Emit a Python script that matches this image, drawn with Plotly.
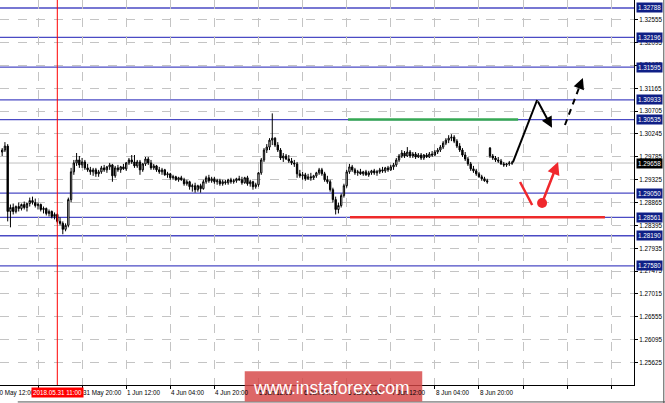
import plotly.graph_objects as go

# H1 candles, EURUSD-like quotes
opens = [1.2988, 1.2992, 1.3000, 1.2868, 1.2876, 1.2868, 1.2878, 1.2874, 1.2882, 1.2876,
         1.2884, 1.2890, 1.2886, 1.2880, 1.2882, 1.2872, 1.2874, 1.2864, 1.2868, 1.2858,
         1.2862, 1.2848, 1.2844, 1.2832, 1.2840, 1.2892, 1.2948, 1.2966, 1.2972, 1.2962,
         1.2968, 1.2956, 1.2952, 1.2948, 1.2952, 1.2944, 1.2948, 1.2956, 1.2952, 1.2958,
         1.2962, 1.2940, 1.2956, 1.2952, 1.2958, 1.2954, 1.2966, 1.2972, 1.2968, 1.2960,
         1.2968, 1.2952, 1.2964, 1.2974, 1.2966, 1.2956, 1.2960, 1.2952, 1.2948, 1.2952,
         1.2942, 1.2944, 1.2936, 1.2938, 1.2932, 1.2936, 1.2932, 1.2924, 1.2928, 1.2918,
         1.2920, 1.2912, 1.2920, 1.2914, 1.2928, 1.2936, 1.2930, 1.2934, 1.2928, 1.2930,
         1.2924, 1.2928, 1.2926, 1.2932, 1.2928, 1.2930, 1.2934, 1.2932, 1.2926, 1.2936,
         1.2924, 1.2928, 1.2918, 1.2922, 1.2946, 1.2972, 1.2992, 1.2998, 1.3012, 1.3016,
         1.3002, 1.2992, 1.2976, 1.2980, 1.2974, 1.2970, 1.2966, 1.2964, 1.2944, 1.2940,
         1.2942, 1.2934, 1.2938, 1.2936, 1.2940, 1.2946, 1.2952, 1.2944, 1.2932, 1.2928,
         1.2912, 1.2892, 1.2872, 1.2880, 1.2900, 1.2920, 1.2948, 1.2958, 1.2952, 1.2946,
         1.2948, 1.2944, 1.2948, 1.2942, 1.2946, 1.2950, 1.2946, 1.2948, 1.2952, 1.2950,
         1.2956, 1.2952, 1.2958, 1.2962, 1.2972, 1.2980, 1.2986, 1.2980, 1.2988, 1.2980,
         1.2984, 1.2978, 1.2982, 1.2976, 1.2982, 1.2978, 1.2984, 1.2982, 1.2988, 1.2992,
         1.2998, 1.3006, 1.3012, 1.3016, 1.3018, 1.3010, 1.3000, 1.2992, 1.2982, 1.2974,
         1.2964, 1.2954, 1.2950, 1.2944, 1.2938, 1.2934, 1.2930, 1.2996, 1.2980, 1.2976,
         1.2972, 1.2970, 1.2964, 1.2962, 1.2964, 1.2966]
highs = [1.2996, 1.3008, 1.3004, 1.2882, 1.2884, 1.2880, 1.2886, 1.2884, 1.2888, 1.2886,
         1.2896, 1.2898, 1.2894, 1.2886, 1.2884, 1.2878, 1.2876, 1.2872, 1.2870, 1.2866,
         1.2864, 1.2856, 1.2848, 1.2844, 1.2896, 1.2956, 1.2972, 1.2986, 1.2980, 1.2976,
         1.2972, 1.2964, 1.2958, 1.2956, 1.2956, 1.2952, 1.2960, 1.2962, 1.2960, 1.2966,
         1.2964, 1.2960, 1.2962, 1.2960, 1.2964, 1.2968, 1.2976, 1.2982, 1.2982, 1.2972,
         1.2972, 1.2966, 1.2978, 1.2978, 1.2972, 1.2964, 1.2962, 1.2958, 1.2956, 1.2954,
         1.2948, 1.2946, 1.2942, 1.2940, 1.2938, 1.2940, 1.2936, 1.2932, 1.2930, 1.2924,
         1.2926, 1.2922, 1.2924, 1.2932, 1.2940, 1.2942, 1.2938, 1.2938, 1.2934, 1.2934,
         1.2932, 1.2932, 1.2934, 1.2936, 1.2934, 1.2936, 1.2940, 1.2938, 1.2938, 1.2940,
         1.2932, 1.2930, 1.2926, 1.2948, 1.2976, 1.2996, 1.3004, 1.3016, 1.3066, 1.3018,
         1.3008, 1.2996, 1.2986, 1.2984, 1.2982, 1.2976, 1.2972, 1.2968, 1.2952, 1.2948,
         1.2946, 1.2944, 1.2946, 1.2942, 1.2948, 1.2956, 1.2956, 1.2948, 1.2940, 1.2932,
         1.2916, 1.2898, 1.2886, 1.2904, 1.2924, 1.2952, 1.2964, 1.2962, 1.2956, 1.2952,
         1.2954, 1.2950, 1.2952, 1.2950, 1.2952, 1.2954, 1.2952, 1.2956, 1.2958, 1.2958,
         1.2960, 1.2962, 1.2966, 1.2976, 1.2984, 1.2992, 1.2990, 1.2998, 1.2992, 1.2988,
         1.2988, 1.2986, 1.2986, 1.2984, 1.2986, 1.2988, 1.2990, 1.2992, 1.2996, 1.3002,
         1.3010, 1.3016, 1.3022, 1.3024, 1.3022, 1.3014, 1.3006, 1.2996, 1.2988, 1.2978,
         1.2968, 1.2960, 1.2954, 1.2948, 1.2942, 1.2938, 1.2934, 1.2998, 1.2984, 1.2980,
         1.2978, 1.2974, 1.2968, 1.2966, 1.2970, 1.2970]
lows = [1.2980, 1.2988, 1.2848, 1.2836, 1.2862, 1.2864, 1.2868, 1.2870, 1.2872, 1.2868,
        1.2878, 1.2882, 1.2876, 1.2872, 1.2868, 1.2864, 1.2860, 1.2858, 1.2854, 1.2852,
        1.2844, 1.2840, 1.2822, 1.2828, 1.2836, 1.2886, 1.2942, 1.2960, 1.2956, 1.2956,
        1.2952, 1.2948, 1.2942, 1.2940, 1.2938, 1.2938, 1.2944, 1.2948, 1.2946, 1.2952,
        1.2928, 1.2936, 1.2948, 1.2946, 1.2952, 1.2950, 1.2962, 1.2964, 1.2956, 1.2956,
        1.2942, 1.2948, 1.2960, 1.2962, 1.2952, 1.2952, 1.2948, 1.2944, 1.2942, 1.2940,
        1.2936, 1.2932, 1.2932, 1.2930, 1.2928, 1.2930, 1.2920, 1.2920, 1.2912, 1.2908,
        1.2906, 1.2908, 1.2906, 1.2912, 1.2924, 1.2926, 1.2926, 1.2924, 1.2922, 1.2920,
        1.2920, 1.2922, 1.2922, 1.2924, 1.2924, 1.2926, 1.2930, 1.2922, 1.2924, 1.2920,
        1.2918, 1.2912, 1.2914, 1.2918, 1.2942, 1.2968, 1.2986, 1.2992, 1.3002, 1.2998,
        1.2988, 1.2972, 1.2968, 1.2972, 1.2966, 1.2962, 1.2958, 1.2936, 1.2936, 1.2932,
        1.2930, 1.2932, 1.2930, 1.2932, 1.2936, 1.2942, 1.2940, 1.2928, 1.2924, 1.2908,
        1.2886, 1.2862, 1.2864, 1.2876, 1.2896, 1.2916, 1.2944, 1.2948, 1.2942, 1.2940,
        1.2942, 1.2940, 1.2940, 1.2938, 1.2942, 1.2942, 1.2940, 1.2944, 1.2946, 1.2946,
        1.2948, 1.2950, 1.2952, 1.2958, 1.2968, 1.2976, 1.2976, 1.2978, 1.2976, 1.2976,
        1.2974, 1.2976, 1.2972, 1.2972, 1.2976, 1.2976, 1.2978, 1.2980, 1.2984, 1.2988,
        1.2994, 1.3002, 1.3006, 1.3010, 1.3006, 1.2996, 1.2988, 1.2978, 1.2970, 1.2960,
        1.2950, 1.2946, 1.2940, 1.2936, 1.2930, 1.2928, 1.2924, 1.2976, 1.2972, 1.2968,
        1.2966, 1.2962, 1.2958, 1.2958, 1.2960, 1.2962]
closes = [1.2992, 1.3000, 1.2868, 1.2876, 1.2868, 1.2878, 1.2874, 1.2882, 1.2876, 1.2884,
          1.2890, 1.2886, 1.2880, 1.2882, 1.2872, 1.2874, 1.2864, 1.2868, 1.2858, 1.2862,
          1.2848, 1.2844, 1.2832, 1.2840, 1.2892, 1.2948, 1.2966, 1.2972, 1.2962, 1.2968,
          1.2956, 1.2952, 1.2948, 1.2952, 1.2944, 1.2948, 1.2956, 1.2952, 1.2958, 1.2962,
          1.2940, 1.2956, 1.2952, 1.2958, 1.2954, 1.2966, 1.2972, 1.2968, 1.2960, 1.2968,
          1.2952, 1.2964, 1.2974, 1.2966, 1.2956, 1.2960, 1.2952, 1.2948, 1.2952, 1.2942,
          1.2944, 1.2936, 1.2938, 1.2932, 1.2936, 1.2932, 1.2924, 1.2928, 1.2918, 1.2920,
          1.2912, 1.2920, 1.2914, 1.2928, 1.2936, 1.2930, 1.2934, 1.2928, 1.2930, 1.2924,
          1.2928, 1.2926, 1.2932, 1.2928, 1.2930, 1.2934, 1.2932, 1.2926, 1.2936, 1.2924,
          1.2928, 1.2918, 1.2922, 1.2946, 1.2972, 1.2992, 1.2998, 1.3012, 1.3016, 1.3002,
          1.2992, 1.2976, 1.2980, 1.2974, 1.2970, 1.2966, 1.2964, 1.2944, 1.2940, 1.2942,
          1.2934, 1.2938, 1.2936, 1.2940, 1.2946, 1.2952, 1.2944, 1.2932, 1.2928, 1.2912,
          1.2892, 1.2872, 1.2880, 1.2900, 1.2920, 1.2948, 1.2958, 1.2952, 1.2946, 1.2948,
          1.2944, 1.2948, 1.2942, 1.2946, 1.2950, 1.2946, 1.2948, 1.2952, 1.2950, 1.2956,
          1.2952, 1.2958, 1.2962, 1.2972, 1.2980, 1.2986, 1.2980, 1.2988, 1.2980, 1.2984,
          1.2978, 1.2982, 1.2976, 1.2982, 1.2978, 1.2984, 1.2982, 1.2988, 1.2992, 1.2998,
          1.3006, 1.3012, 1.3016, 1.3018, 1.3010, 1.3000, 1.2992, 1.2982, 1.2974, 1.2964,
          1.2954, 1.2950, 1.2944, 1.2938, 1.2934, 1.2930, 1.2928, 1.2980, 1.2976, 1.2972,
          1.2970, 1.2964, 1.2962, 1.2964, 1.2966, 1.29658]
bars = list(range(len(closes)))

# price axis labels as printed by the terminal
price_ticks = [1.32555, 1.32095, 1.31635, 1.31165, 1.30705, 1.30245, 1.29785, 1.29325, 1.28865,
               1.28395, 1.27935, 1.27475, 1.27015, 1.26555, 1.26095, 1.25625, 1.25165]
# time axis: one label every 16 bars (first one sits under the cursor box)
time_tick_bars = [13 + 16 * k for k in range(14)]
time_tick_text = ["", "31 May 20:00", "1 Jun 12:00", "4 Jun 04:00", "4 Jun 20:00",
                  "5 Jun 12:00", "6 Jun 04:00", "6 Jun 20:00", "7 Jun 12:00", "8 Jun 04:00",
                  "8 Jun 20:00", "", "", ""]

# horizontal levels drawn by the analyst
levels = [1.32788, 1.32196, 1.31595, 1.30933, 1.30535, 1.29050, 1.28561, 1.28190, 1.27580]
bid = 1.29658
cursor_bar = 20
cursor_text = "2018.05.31 11:00"

green_level = [125.5, 187.2, 1.30535]
red_level = [126.2, 218.7, 1.28561]

# forecast sketch
up_path_x = [185.3, 194.1]
up_path_y = [1.2967, 1.3093]
up_head = [199.5, 1.3037]
dash_x = [204.2, 209.6]
dash_y = [1.30426, 1.3122]
dash_head = [210.7, 1.31375]
red_stroke_x = [187.9, 192.3]
red_stroke_y = [1.29275, 1.28811]
red_dot = [195.9, 1.28851]
red_head = [201.7, 1.29679]

FONT = "Liberation Sans, Arial"
LEVEL_COLOR = "#4a4ac4"
BOX_COLOR = "#0f1f86"

fig = go.Figure()
fig.add_trace(go.Candlestick(
    x=bars, open=opens, high=highs, low=lows, close=closes,
    increasing=dict(line=dict(color="black", width=1), fillcolor="white"),
    decreasing=dict(line=dict(color="black", width=1), fillcolor="black"),
    whiskerwidth=0, hoverinfo="skip", showlegend=False))

fig.add_trace(go.Scatter(x=up_path_x, y=up_path_y, mode="lines",
                         line=dict(color="black", width=2), hoverinfo="skip", showlegend=False))
fig.add_trace(go.Scatter(x=dash_x, y=dash_y, mode="lines",
                         line=dict(color="black", width=2, dash="6px,5px"), hoverinfo="skip", showlegend=False))
fig.add_trace(go.Scatter(x=red_stroke_x, y=red_stroke_y, mode="lines",
                         line=dict(color="#f0282d", width=2.5), hoverinfo="skip", showlegend=False))
fig.add_trace(go.Scatter(x=[red_dot[0]], y=[red_dot[1]], mode="markers",
                         marker=dict(color="#f0282d", size=10), hoverinfo="skip", showlegend=False))

shapes = []
for lv in levels:
    shapes.append(dict(type="line", xref="paper", yref="y", x0=0, x1=1, y0=lv, y1=lv,
                       line=dict(color=LEVEL_COLOR, width=1.3), layer="below"))
shapes.append(dict(type="line", xref="paper", yref="y", x0=0, x1=1, y0=bid, y1=bid,
                   line=dict(color="#c0c0c0", width=1), layer="below"))
shapes.append(dict(type="line", xref="x", yref="y", x0=green_level[0], x1=green_level[1],
                   y0=green_level[2], y1=green_level[2], line=dict(color="#35a853", width=2.5)))
shapes.append(dict(type="line", xref="x", yref="y", x0=red_level[0], x1=red_level[1],
                   y0=red_level[2], y1=red_level[2], line=dict(color="#ee2a2a", width=2.5)))
shapes.append(dict(type="line", xref="x", yref="paper", x0=cursor_bar, x1=cursor_bar, y0=0, y1=1,
                   line=dict(color="#ff0000", width=1)))
# window frame
shapes.append(dict(type="line", xref="paper", yref="paper", x0=0.028, x1=1.05, y0=-0.044, y1=-0.044,
                   line=dict(color="#505050", width=1)))
shapes.append(dict(type="line", xref="paper", yref="paper", x0=1.047, x1=1.047, y0=-0.05, y1=1,
                   line=dict(color="#505050", width=1)))
# watermark
shapes.append(dict(type="rect", xref="paper", yref="paper", x0=0.386, x1=0.666, y0=-0.043, y1=0.036,
                   fillcolor="rgba(214,70,70,0.82)", line=dict(width=0)))

ann = []
for lv in levels:
    ann.append(dict(xref="paper", yref="y", x=1.003, y=lv, xanchor="left", yanchor="middle",
                    text="%.5f" % lv, showarrow=False, bgcolor=BOX_COLOR, borderpad=1,
                    font=dict(family=FONT, size=6.3, color="white")))
ann.append(dict(xref="paper", yref="y", x=1.003, y=bid, xanchor="left", yanchor="middle",
                text="%.5f" % bid, showarrow=False, bgcolor="black", borderpad=1,
                font=dict(family=FONT, size=6.3, color="white")))

ann.append(dict(xref="paper", yref="paper", x=-0.0095, y=0, xanchor="left", yanchor="top",
                text="30 May 12:00", showarrow=False, yshift=-2,
                font=dict(family=FONT, size=6.3, color="black")))
for b, t in zip(time_tick_bars, time_tick_text):
    if t:
        ann.append(dict(xref="x", yref="paper", x=b, y=0, xanchor="left", yanchor="top",
                        text=t, showarrow=False, yshift=-2, xshift=-1,
                        font=dict(family=FONT, size=6.3, color="black")))
ann.append(dict(xref="x", yref="paper", x=cursor_bar, y=0, xanchor="center", yanchor="top",
                text=cursor_text, showarrow=False, bgcolor="#ff0000", borderpad=1, yshift=-2,
                font=dict(family=FONT, size=6.3, color="white")))
ann.append(dict(xref="paper", yref="paper", x=0.523, y=-0.007, xanchor="center", yanchor="middle",
                text="www.instaforex.com", showarrow=False,
                font=dict(family=FONT, size=17.5, color="white")))

# arrow heads
ann.append(dict(xref="x", yref="y", axref="x", ayref="y", x=up_head[0], y=up_head[1],
                ax=up_path_x[1], ay=up_path_y[1], showarrow=True, arrowhead=2, arrowsize=1.1,
                arrowwidth=2, arrowcolor="black", text=""))
ann.append(dict(xref="x", yref="y", axref="x", ayref="y", x=dash_head[0], y=dash_head[1],
                ax=dash_x[1], ay=dash_y[1], showarrow=True, arrowhead=2, arrowsize=1.1,
                arrowwidth=2, arrowcolor="black", text=""))
ann.append(dict(xref="x", yref="y", axref="x", ayref="y", x=red_head[0], y=red_head[1],
                ax=red_dot[0], ay=red_dot[1], showarrow=True, arrowhead=2, arrowsize=1,
                arrowwidth=2.5, arrowcolor="#f0282d", text=""))

fig.update_layout(
    width=665, height=403,
    margin=dict(l=0, r=31, t=0, b=18),
    plot_bgcolor="white", paper_bgcolor="white",
    shapes=shapes, annotations=ann,
    showlegend=False,
)
fig.update_xaxes(
    range=[-0.79, 229.25], rangeslider=dict(visible=False),
    tickvals=time_tick_bars, showticklabels=False,
    ticks="outside", ticklen=3, tickcolor="black",
    showline=True, linecolor="black", linewidth=1,
    showgrid=True, gridcolor="#c4c4c4", griddash="dash", gridwidth=1, zeroline=False)
fig.update_yaxes(
    range=[1.25177, 1.32949], side="right",
    tickvals=price_ticks, ticktext=["%.5f" % v for v in price_ticks],
    tickfont=dict(family=FONT, size=6.3, color="black"),
    ticks="outside", ticklen=3, tickcolor="black",
    showline=True, linecolor="black", linewidth=1,
    showgrid=True, gridcolor="#c4c4c4", griddash="dash", gridwidth=1, zeroline=False)

# page body has a default 8px margin; drop it so the chart sits at the window corner
fig.write_html("out.html", config={"displayModeBar": False},
               post_script="document.body.style.margin='0';document.body.style.padding='0';")
